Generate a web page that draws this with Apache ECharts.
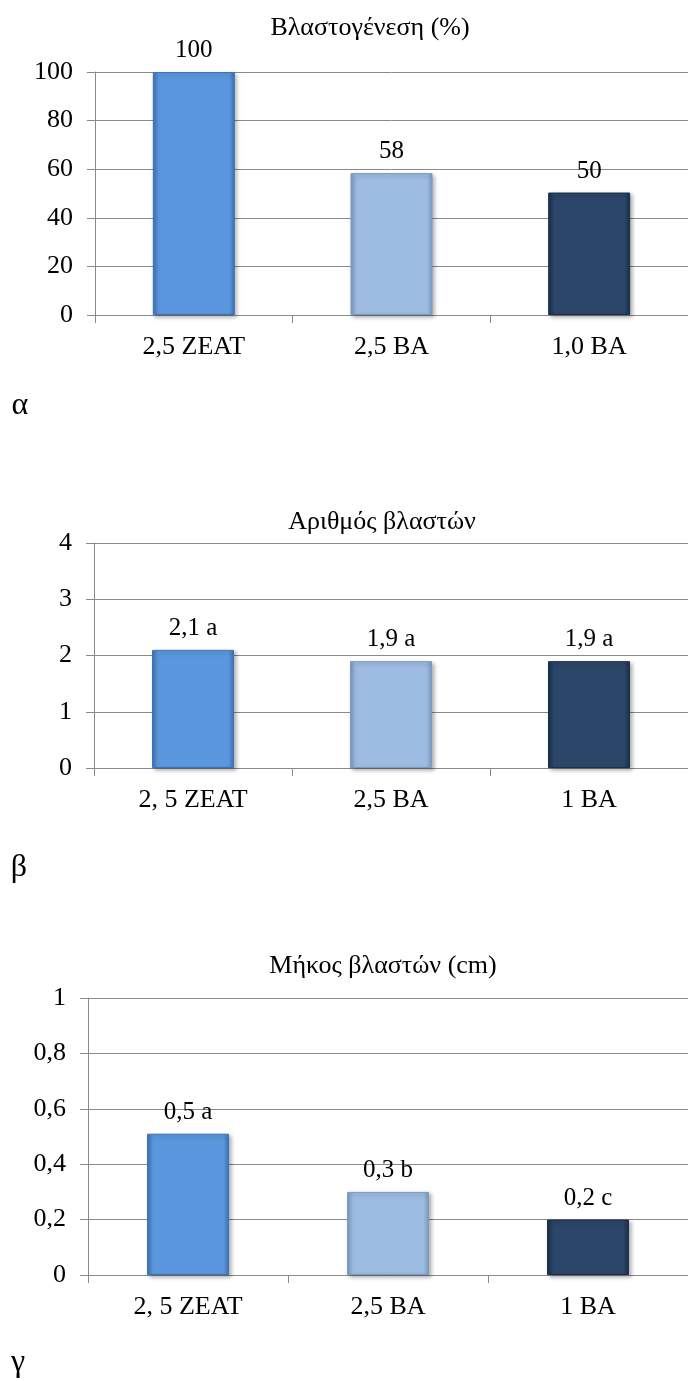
<!DOCTYPE html>
<html><head><meta charset="utf-8">
<script src="https://cdn.jsdelivr.net/npm/echarts@6/dist/echarts.min.js"></script>
<style>html,body{margin:0;padding:0;background:#fff}#c{width:688px;height:1381px}</style>
</head><body><div id="c"></div>
<script>
// Chart α
const titleA = 'Βλαστογένεση (%)';
const categoriesA = ['2,5 ZEAT', '2,5 BA', '1,0 BA'];
const valuesA = [100, 58.4, 50.4];
const yMaxA = 100, yStepA = 20;
// Chart β
const titleB = 'Αριθμός βλαστών';
const categoriesB = ['2, 5 ZEAT', '2,5 BA', '1 BA'];
const valuesB = [2.1, 1.9, 1.9];
const lettersB = ['a', 'a', 'a'];
const yMaxB = 4, yStepB = 1;
// Chart γ
const titleC = 'Μήκος βλαστών (cm)';
const categoriesC = ['2, 5 ZEAT', '2,5 BA', '1 BA'];
const valuesC = [0.51, 0.30, 0.20];
const lettersC = ['a', 'b', 'c'];
const yMaxC = 1, yStepC = 0.2;
const panelLetters = ['α', 'β', 'γ'];

const FONT = '"Liberation Serif", "Times New Roman", "DejaVu Serif", serif';
const GRID_COLOR = '#8a8a8a';
const barBase = ['#5B97DE', '#9DBCE2', '#2B4668'];
const barDark = ['#3D72B6', '#7C9AC0', '#1A2F4B'];

function barFill(i) {
  return new echarts.graphic.LinearGradient(0, 0, 1, 0, [
    {offset: 0, color: barDark[i]},
    {offset: 0.07, color: barBase[i]},
    {offset: 0.93, color: barBase[i]},
    {offset: 1, color: barDark[i]}
  ]);
}
const comma = v => String(v).replace('.', ',');

const grids = [
  {left: 95, top: 72, width: 600, height: 243},
  {left: 94, top: 543, width: 603, height: 225},
  {left: 88, top: 998, width: 606, height: 277}
];

function xAxis(idx, cats) {
  return {
    type: 'category', gridIndex: idx, data: cats,
    axisLine: {lineStyle: {color: GRID_COLOR, width: 1}},
    axisTick: {show: true, length: 8, lineStyle: {color: GRID_COLOR}},
    axisLabel: {margin: 19, fontSize: 26, color: '#000', fontFamily: FONT}
  };
}
function yAxis(idx, max, step, fmt) {
  return {
    type: 'value', gridIndex: idx, min: 0, max: max, interval: step,
    axisLine: {show: true, lineStyle: {color: GRID_COLOR, width: 1}},
    axisTick: {show: true, length: 8, lineStyle: {color: GRID_COLOR}},
    splitLine: {show: true, lineStyle: {color: GRID_COLOR, width: 1}},
    axisLabel: {margin: 22, fontSize: 26, color: '#000', fontFamily: FONT, formatter: fmt}
  };
}
function series(idx, vals, fmt) {
  return {
    type: 'bar', xAxisIndex: idx, yAxisIndex: idx, barWidth: 82,
    data: vals.map((v, i) => ({
      value: v,
      itemStyle: {
        color: barFill(i), borderColor: barDark[i], borderWidth: 1,
        shadowBlur: 4, shadowOffsetX: 2, shadowOffsetY: 2, shadowColor: 'rgba(0,0,0,0.3)'
      }
    })),
    label: {show: true, position: 'top', distance: 9, fontSize: 25, color: '#000', fontFamily: FONT, formatter: fmt},
    animation: false
  };
}

const chart = echarts.init(document.getElementById('c'), null, {renderer: 'canvas'});
const txt = (t, x, y, size) => ({
  type: 'text', x: x, y: y,
  style: {text: t, fill: '#000', fontSize: size, fontFamily: FONT, align: 'center', verticalAlign: 'middle'}
});
chart.setOption({
  animation: false,
  textStyle: {fontFamily: FONT},
  grid: grids,
  xAxis: [xAxis(0, categoriesA), xAxis(1, categoriesB), xAxis(2, categoriesC)],
  yAxis: [
    yAxis(0, yMaxA, yStepA, v => String(v)),
    yAxis(1, yMaxB, yStepB, v => String(v)),
    yAxis(2, yMaxC, yStepC, v => comma(+v.toFixed(1)))
  ],
  series: [
    series(0, valuesA, p => String(Math.round(p.value))),
    series(1, valuesB, p => comma(p.value.toFixed(1)) + ' ' + lettersB[p.dataIndex]),
    series(2, valuesC, p => comma(p.value.toFixed(1)) + ' ' + lettersC[p.dataIndex])
  ],
  graphic: [
    txt(titleA, 370, 28, 26),
    txt(titleB, 382, 522, 26),
    txt(titleC, 383, 966, 26),
    txt(panelLetters[0], 20, 406, 32),
    txt(panelLetters[1], 19, 868, 32),
    txt(panelLetters[2], 18, 1363, 32)
  ]
});
</script></body></html>
